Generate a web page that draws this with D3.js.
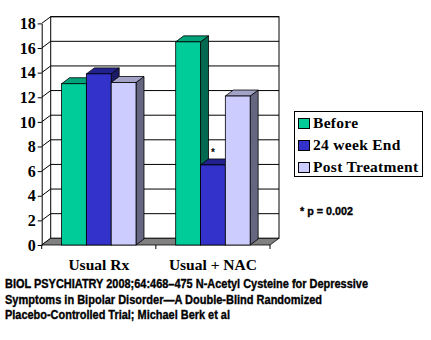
<!DOCTYPE html>
<html>
<head>
<meta charset="utf-8">
<script src="https://cdn.jsdelivr.net/npm/d3@7"></script>
<style>
  html, body { margin: 0; padding: 0; background: #ffffff; }
  svg { display: block; }
</style>
</head>
<body>
<script>
// Chart data
const categories = ["Usual Rx", "Usual + NAC"];
const seriesNames = ["Before", "24 week End", "Post Treatment"];
const before = [13.1, 16.5];
const week24End = [13.9, 6.5];
const postTreatment = [13.2, 12.1];
const yTicks = [0, 2, 4, 6, 8, 10, 12, 14, 16, 18];
const footnote = "* p = 0.002";
const captionLines = [
  "BIOL PSYCHIATRY 2008;64:468\u2013475 N-Acetyl Cysteine for Depressive",
  "Symptoms in Bipolar Disorder\u2014A Double-Blind Randomized",
  "Placebo-Controlled Trial; Michael Berk et al"
];

const seriesValues = [before, week24End, postTreatment];

// Face colours for each series: front, top, side
const palette = [
  { front: "#00cc99", top: "#00a37a", side: "#00694f" },
  { front: "#3333cc", top: "#22228f", side: "#1a1a66" },
  { front: "#ccccff", top: "#a3a3c8", side: "#666680" }
];

const W = 431, H = 340;
const svg = d3.select("body").append("svg").attr("width", W).attr("height", H);

// Plot geometry (front plane) and 3-D depth offsets
const plotLeft = 41.7, plotRight = 270, plotBottom = 245, plotTop = 23.4;
const wallDx = 9, wallDy = -6.7;
const barDx = 8, barDy = -6;

const y = d3.scaleLinear().domain([0, 18]).range([plotBottom, plotTop]);
const x0 = d3.scaleBand().domain(categories).range([plotLeft, plotRight]).paddingInner(0).paddingOuter(0);
const x1 = d3.scaleBand().domain(seriesNames).range([0, x0.bandwidth()]).paddingInner(0).paddingOuter(0.8);

const serif = "'Liberation Serif', 'Times New Roman', serif";
const sans = "'Liberation Sans', Arial, sans-serif";

// Narrow bold sans text: regular bold sans squeezed to a condensed width
function narrowText(sel, width) {
  sel.attr("font-family", sans).attr("font-weight", "bold")
    .attr("stroke", "#000").attr("stroke-width", 0.35)
    .attr("textLength", width).attr("lengthAdjust", "spacingAndGlyphs");
}

// Back wall
const g = svg.append("g");
g.append("rect")
  .attr("x", plotLeft + wallDx).attr("y", y(18) + wallDy)
  .attr("width", plotRight - plotLeft).attr("height", y(0) - y(18))
  .attr("fill", "#ffffff").attr("stroke", "#000").attr("stroke-width", 1);

// Gridlines on back wall and their diagonals on the side wall
g.selectAll("line.grid").data(yTicks.filter(d => d > 0)).join("line")
  .attr("class", "grid")
  .attr("x1", plotLeft + wallDx).attr("x2", plotRight + wallDx)
  .attr("y1", d => y(d) + wallDy).attr("y2", d => y(d) + wallDy)
  .attr("stroke", "#000").attr("stroke-width", 1);
g.selectAll("line.diag").data(yTicks).join("line")
  .attr("class", "diag")
  .attr("x1", plotLeft).attr("x2", plotLeft + wallDx)
  .attr("y1", d => y(d)).attr("y2", d => y(d) + wallDy)
  .attr("stroke", "#000").attr("stroke-width", 1);

// Floor
g.append("path")
  .attr("d", `M${plotLeft},${y(0)} L${plotRight},${y(0)} L${plotRight + wallDx},${y(0) + wallDy} L${plotLeft + wallDx},${y(0) + wallDy} Z`)
  .attr("fill", "#808080").attr("stroke", "#000").attr("stroke-width", 0.8);

// Y axis
const yAxis = d3.axisLeft(y).tickValues(yTicks).tickSize(4).tickSizeOuter(0).tickFormat(d3.format("d"));
const ya = svg.append("g").attr("transform", `translate(${plotLeft},0)`).call(yAxis);
ya.select(".domain").attr("stroke", "#000");
ya.selectAll(".tick line").attr("stroke", "#000");
ya.selectAll(".tick text")
  .attr("x", -6)
  .attr("font-family", serif).attr("font-weight", "bold").attr("font-size", 16).attr("fill", "#000");

// Category boundary ticks below the floor
svg.selectAll("line.cat").data([plotLeft, x0(categories[1]), plotRight]).join("line")
  .attr("class", "cat")
  .attr("x1", d => d).attr("x2", d => d)
  .attr("y1", y(0)).attr("y2", y(0) + 4)
  .attr("stroke", "#000");

// Bars: front, top and side faces
const bars = [];
categories.forEach((c, ci) => {
  seriesNames.forEach((s, si) => {
    bars.push({ cat: c, series: s, si, value: seriesValues[si][ci] });
  });
});

const barG = svg.append("g");
bars.forEach(b => {
  const x = x0(b.cat) + x1(b.series);
  const w = x1.bandwidth();
  const yt = y(b.value), yb = y(0);
  const col = palette[b.si];
  const bg = barG.append("g");
  bg.append("path")
    .attr("d", `M${x + w},${yt} L${x + w + barDx},${yt + barDy} L${x + w + barDx},${yb + barDy} L${x + w},${yb} Z`)
    .attr("fill", col.side).attr("stroke", "#000").attr("stroke-width", 0.8);
  bg.append("path")
    .attr("d", `M${x},${yt} L${x + barDx},${yt + barDy} L${x + w + barDx},${yt + barDy} L${x + w},${yt} Z`)
    .attr("fill", col.top).attr("stroke", "#000").attr("stroke-width", 0.8);
  bg.append("rect")
    .attr("x", x).attr("y", yt).attr("width", w).attr("height", yb - yt)
    .attr("fill", col.front).attr("stroke", "#000").attr("stroke-width", 0.8);
});

// Significance marker above the 24-week bar in the NAC group
svg.append("text")
  .attr("x", x0(categories[1]) + x1(seriesNames[1]) + x1.bandwidth() / 2)
  .attr("y", y(week24End[1]) - 9)
  .attr("text-anchor", "middle")
  .attr("font-family", sans).attr("font-weight", "bold").attr("font-size", 10)
  .text("*");

// Category labels
svg.selectAll("text.catlabel").data(categories).join("text")
  .attr("class", "catlabel")
  .attr("x", d => x0(d) + x0.bandwidth() / 2)
  .attr("y", 270)
  .attr("text-anchor", "middle")
  .attr("font-family", serif).attr("font-weight", "bold").attr("font-size", 15.5)
  .text(d => d);

// Legend
const lg = svg.append("g");
lg.append("rect").attr("x", 294.5).attr("y", 111.5).attr("width", 128).attr("height", 65)
  .attr("fill", "#fff").attr("stroke", "#000").attr("stroke-width", 1);
seriesNames.forEach((s, i) => {
  const base = 128 + i * 22;
  lg.append("rect").attr("x", 298.5).attr("y", base - 9.5).attr("width", 11).attr("height", 10)
    .attr("fill", palette[i].front).attr("stroke", "#000").attr("stroke-width", 1);
  lg.append("text").attr("x", 313).attr("y", base)
    .attr("font-family", serif).attr("font-weight", "bold").attr("font-size", 15.5)
    .attr("letter-spacing", 0.3)
    .text(s);
});

// Footnote
svg.append("text").attr("x", 300).attr("y", 215)
  .attr("font-size", 11)
  .text(footnote)
  .call(narrowText, 53);

// Source caption
const captionWidths = [363, 317, 225];
svg.selectAll("text.caption").data(captionLines).join("text")
  .attr("class", "caption")
  .attr("x", 5).attr("y", (d, i) => 288 + i * 15.7)
  .attr("font-size", 12.5)
  .text(d => d)
  .each(function (d, i) { d3.select(this).call(narrowText, captionWidths[i]); });
</script>
</body>
</html>
